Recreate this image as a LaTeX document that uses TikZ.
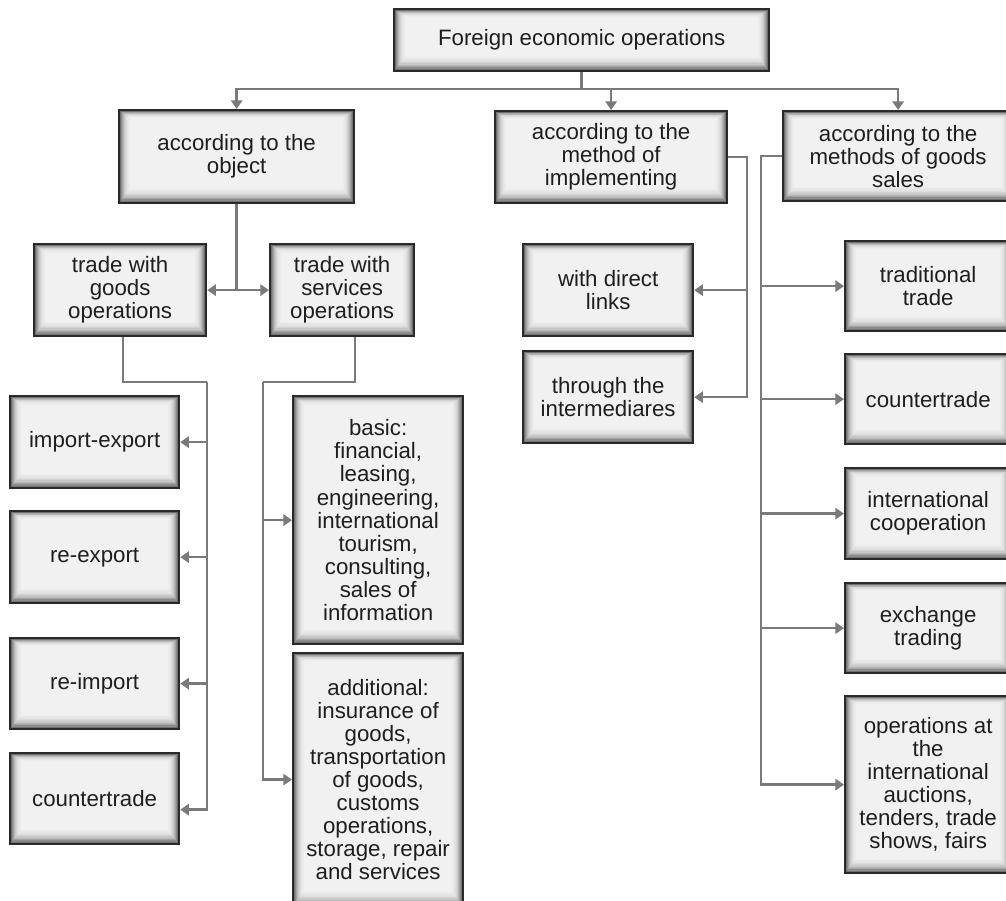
\documentclass[tikz,border=0pt]{standalone}
\usepackage{fontspec}
\setmainfont{Liberation Sans}
\usetikzlibrary{arrows.meta,calc}

\definecolor{linkgray}{HTML}{7A7A7A}
\definecolor{framedark}{HTML}{2A2A2A}
\definecolor{inktext}{HTML}{1E1E1E}

\tikzset{
  box/.style={
    draw=framedark, line width=1.7pt, fill=black!5,
    anchor=north west, align=center, inner sep=0pt,
    text=inktext,
    font=\fontsize{16.7pt}{17.3pt}\selectfont,
    path picture={
      \foreach \d/\g in {0/68,1/56,2/45,3/36,4/28,5/22,6/17,7/13.5,8/10.5,9/8.5,10/7,11/6,12/5.5}{
        \fill[black!\g]
          ([shift={(\d*0.75pt,\d*0.975pt)}]path picture bounding box.south west)
          rectangle
          ([shift={(-\d*0.75pt,-\d*0.525pt)}]path picture bounding box.north east);
      }
    }
  },
  link/.style={draw=linkgray, line width=2pt},
  linkarrow/.style={link, -{Triangle[width=8.5pt,length=6.5pt]}}
}

% place a box by its left, top, right and bottom edges (pixel units)
\newcommand\placebox[6]{%
  \node[box, minimum width={(#4-#2)*0.75pt}, minimum height={(#5-#3)*0.75pt}]
    (#1) at (#2,#3) {#6};}

\begin{document}
\begin{tikzpicture}[x=0.75pt, y={(0pt,-0.75pt)}]
\useasboundingbox (0,0) rectangle (1006,900);

% top level
\placebox{top}{393}{8}{768}{70}{Foreign economic operations}

% classification criteria
\placebox{obj}{118}{109}{353}{202}{according to the\\object}
\placebox{meth}{494}{110}{726}{202}{according to the\\method of\\implementing}
\placebox{sales}{782}{110}{1012}{200}{according to the\\methods of goods\\sales}

% by object
\placebox{goods}{33}{243}{205}{335}{trade with\\goods\\operations}
\placebox{serv}{269}{243}{413}{335}{trade with\\services\\operations}

\placebox{ie}{9}{395}{178}{487}{import-export}
\placebox{rex}{9}{510}{178}{602}{re-export}
\placebox{rim}{9}{637}{178}{728}{re-import}
\placebox{cta}{9}{752}{178}{843}{countertrade}

\placebox{basic}{292}{395}{462}{643}{basic:\\financial,\\leasing,\\engineering,\\international\\tourism,\\consulting,\\sales of\\information}
\placebox{addl}{292}{652}{462}{905}{additional:\\insurance of\\goods,\\transportation\\of goods,\\customs\\operations,\\storage, repair\\and services}

% by method of implementing
\placebox{direct}{522}{243}{692}{335}{with direct\\links}
\placebox{inter}{522}{350}{692}{442}{through the\\intermediares}

% by methods of goods sales
\placebox{trad}{844}{240}{1010}{330}{traditional\\trade}
\placebox{ctb}{844}{353}{1010}{443}{countertrade}
\placebox{coop}{844}{467}{1010}{558}{international\\cooperation}
\placebox{exch}{844}{582}{1010}{672}{exchange\\trading}
\placebox{auct}{844}{695}{1010}{872}{operations at\\the\\international\\auctions,\\tenders, trade\\shows, fairs}

% junction coordinates
\coordinate (bus) at (581,89);
\coordinate (gx) at (123,382);
\coordinate (gv) at (207,382);
\coordinate (sx) at (355,382);
\coordinate (sv) at (263,382);
\coordinate (mv) at (747,157);
\coordinate (slv) at (761,157);
\coordinate (ctin) at ([yshift=-8.25pt]cta.east);

% top level to criteria
\draw[link] (top.south) -- (top.south |- bus);
\draw[linkarrow] (top.south |- bus) -| (obj.north);
\draw[linkarrow] (top.south |- bus) -| (meth.north);
\draw[linkarrow] (top.south |- bus) -| (sales.north);

% object
\draw[link] (obj.south) -- (obj.south |- goods.east);
\draw[linkarrow] (obj.south |- goods.east) -- (goods.east);
\draw[linkarrow] (obj.south |- serv.west) -- (serv.west);

% goods operations
\draw[link] (goods.south -| gx) -- (gx) -- (gv);
\draw[linkarrow] (gv) -- (gv |- ctin) -- (ctin);
\draw[linkarrow] (gv |- ie.east) -- (ie.east);
\draw[linkarrow] (gv |- rex.east) -- (rex.east);
\draw[linkarrow] (gv |- rim.east) -- (rim.east);

% services operations
\draw[link] (serv.south -| sx) -- (sx) -- (sv);
\draw[linkarrow] (sv) -- (sv |- addl.west) -- (addl.west);
\draw[linkarrow] (sv |- basic.west) -- (basic.west);

% method of implementing
\draw[linkarrow] (meth.east) -- (meth.east -| mv) -- (mv |- inter.east) -- (inter.east);
\draw[linkarrow] (mv |- direct.east) -- (direct.east);

% methods of goods sales
\draw[linkarrow] (sales.west) -- (sales.west -| slv) -- (slv |- auct.west) -- (auct.west);
\draw[linkarrow] (slv |- trad.west) -- (trad.west);
\draw[linkarrow] (slv |- ctb.west) -- (ctb.west);
\draw[linkarrow] (slv |- coop.west) -- (coop.west);
\draw[linkarrow] (slv |- exch.west) -- (exch.west);
\end{tikzpicture}
\end{document}
